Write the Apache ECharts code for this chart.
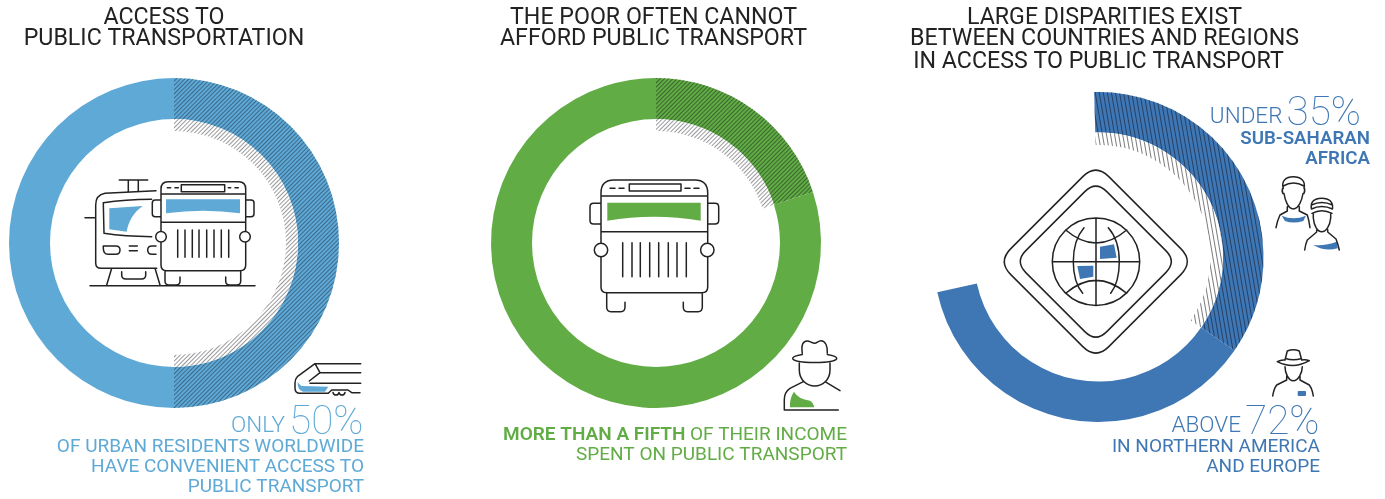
<!DOCTYPE html>
<html>
<head>
<meta charset="utf-8">
<title>Public transport access</title>
<style>html,body{margin:0;padding:0;background:#fff}#chart{width:1385px;height:499px}</style>
<script src="https://cdn.jsdelivr.net/npm/echarts@6/dist/echarts.min.js"></script>
</head>
<body>
<div id="chart"></div>
<script>
// Shares shown by the three rings, percent
const accessSlices = ['With convenient access', 'Without convenient access'];
const accessValues = [50, 50];
const incomeSlices = ['Spent on public transport', 'Other income'];
const incomeValues = [20, 80];
const regionSlices = ['Sub-Saharan Africa', 'Northern America and Europe', 'Not covered'];
const regionValues = [35, 37, 28];

// Headings, one entry per line
const headingA = ['ACCESS TO', 'PUBLIC TRANSPORTATION'];
const headingB = ['THE POOR OFTEN CANNOT', 'AFFORD PUBLIC TRANSPORT'];
const headingC = ['LARGE DISPARITIES EXIST', 'BETWEEN COUNTRIES AND REGIONS', 'IN ACCESS TO PUBLIC TRANSPORT'];

const SKY = '#5ea9d6', GREEN = '#61ac45', BLUE = '#3f77b4', INK = '#222222';
const FONT = 'Roboto, sans-serif';

const hatch = (color, rotation, gap) => ({
  symbol: 'rect', symbolSize: 1, color,
  dashArrayX: [1, 0], dashArrayY: [1, gap], rotation
});

function ring(center, radius, startAngle, names, values, styles) {
  return {
    type: 'pie', center, radius, startAngle, silent: true, animation: false,
    label: {show: false}, labelLine: {show: false}, emphasis: {disabled: true},
    data: values.map((value, i) => ({name: names[i], value, itemStyle: styles[i]}))
  };
}

const CLEAR = {color: 'rgba(255,255,255,0)'};
const series = [
  ring([174, 243], [124, 165], 90, accessSlices, accessValues, [
    {color: SKY, decal: hatch('rgba(38,66,92,0.62)', -Math.PI / 4, 2)}, {color: SKY}]),
  ring([174, 243], [112, 124], 90, accessSlices, accessValues, [
    {color: '#fff', decal: hatch('rgba(110,110,115,0.7)', -Math.PI / 4, 2)}, CLEAR]),
  ring([656, 243], [124, 165], 90, incomeSlices, incomeValues, [
    {color: GREEN, decal: hatch('rgba(32,60,30,0.62)', -Math.PI / 4, 2)}, {color: GREEN}]),
  ring([656, 243], [112, 124], 90, incomeSlices, incomeValues, [
    {color: '#fff', decal: hatch('rgba(110,110,115,0.7)', -Math.PI / 4, 2)}, CLEAR]),
  ring([1098.5, 257], [124.5, 165], 91.5, regionSlices, regionValues, [
    {color: BLUE, decal: hatch('rgba(25,45,75,0.72)', 1.4, 3)}, {color: BLUE}, CLEAR]),
  ring([1098.5, 257], [112, 124.5], 91.5, regionSlices, regionValues, [
    {color: '#fff', decal: hatch('rgba(100,100,105,0.85)', 1.4, 3)}, CLEAR, CLEAR])
];

// Line-art pictograms, as SVG path strings in page pixels
const outlines = {
  busA: 'M161 194V189Q161 181.7 168 181.7H238.7Q245.7 181.7 245.7 189V265Q245.7 270.7 240 270.7H226.7M180 270.7H166.7Q161 270.7 161 265V194H245.7M161 222.3H245.7' +
    'M165 270.7V281Q165 285 169 285H176Q180 285 180 281V277M240.7 270.7V281Q240.7 285 236.7 285H229.7Q225.7 285 225.7 281V277M180 270.7H226.7' +
    'M181.3 184.7H224.7V191.7H181.3ZM167.3 187.7H170.7M175 187.7H178.3M228.3 187.7H230.7M235 187.7H238.3' +
    'M161 200H155.3Q152.3 200 152.3 203V213.7Q152.3 216.7 155.3 216.7H161M245.7 200H251Q254 200 254 203V213.7Q254 216.7 251 216.7H245.7' +
    'M177.7 230V257.3M185 230V257.3M192.3 230V257.3M199 230V257.3M206.7 230V257.3M214 230V257.3M221.3 230V257.3M228.7 230V257.3',
  tram: 'M156 190.7L105 193.3Q95.7 195 95.7 205V263Q95.7 268.3 101 268.3H156.7M85 217.7H95.7' +
    'M151.7 199.3Q125 199.5 103.3 202.7L104 233.3Q125 236.5 151.7 236.7M119.3 180H147.7M128.3 180V191.7M138.3 180V191.7' +
    'M103.3 246H115.7Q120 246 120 250Q120 254.3 115.7 254.3H108Q103.3 254.3 103.3 248ZM129.3 246H137.3M129.3 250.7H137.3M156 246H152Q147.7 246 147.7 250Q147.7 254.3 152 254.3H156' +
    'M111.7 268.3L106.7 285M155 268.3L160 285M121.7 271.7V275Q121.7 279 126 279H141.5Q145.7 279 145.7 275V271.7M90 285.7H255',
  train: 'M360.7 363.7H315L297.3 376.7Q295 379 295 383V388Q295 393.3 300 393.3H328.3L331.7 390H348L351.7 392.7H360M315 363.7L320 372.7H360.7M320 372.7L309.3 381M310 383.3H360.7' +
    'M333 392.5Q333.5 395 336 395Q338.5 395 339 392.5M339 392.5Q339.5 395 342 395Q344.5 395 345 392.5',
  busB: 'M601 196V193Q601 180 614 180H694.7Q707.7 180 707.7 193V287Q707.7 292.7 702 292.7H685M623.7 292.7H606.7Q601 292.7 601 287V196H707.7M601 231.7H707.7M623.7 292.7H685' +
    'M606.7 292.7V307Q606.7 311.7 611 311.7H620.7Q625 311.7 625 307V302.3M702.3 292.7V307Q702.3 311.7 698 311.7H687.6Q683.3 311.7 683.3 307V302.3' +
    'M629.3 184H681V191H629.3ZM610 188.3H615M619 188.3H624M685 188.3H690M694 188.3H699' +
    'M601 203.3H593.5Q590 203.3 590 207V220.5Q590 224 593.5 224H601M707.7 203.3H715Q718.7 203.3 718.7 207V220.5Q718.7 224 715 224H707.7' +
    'M622.7 242.7V276.7M632 242.7V276.7M640.3 242.7V276.7M649.7 242.7V276.7M658.7 242.7V276.7M668.3 242.7V276.7M677 242.7V276.7M686.3 242.7V276.7',
  hatMan: 'M802.3 353.3C801 345 803 341 807 341C810 341 812 343.3 814.7 343.3C817 343.3 818 340.7 821 340.7C825 340.7 828 346 827.3 353.3' +
    'M802.3 354.5C796 355.5 792.7 356.7 792.7 358.3C792.7 361 802 362.6 814.7 362.6C827.4 362.6 836.7 361 836.7 358.3C836.7 356.7 833 355.5 827.3 354.5' +
    'M799.3 363V370C799.3 380 807 386 814.7 386C822.4 386 830 380 830 370V363M803.3 381.7L790 388.3Q784.3 392 784.3 400V410H838.3M825 381.7L840 390.7',
  globe: 'M1082.8 176.6Q1095.8 163.6 1108.8 176.6L1180.8 248.6Q1193.8 261.6 1180.8 274.6L1108.8 346.6Q1095.8 359.6 1082.8 346.6L1010.8 274.6Q997.8 261.6 1010.8 248.6Z' +
    'M1084.8 191.6Q1095.8 180.6 1106.8 191.6L1165.8 250.6Q1176.8 261.6 1165.8 272.6L1106.8 331.6Q1095.8 342.6 1084.8 331.6L1025.8 272.6Q1014.8 261.6 1025.8 250.6Z' +
    'M1052.3 261.7A43.7 43.7 0 1 0 1139.7 261.7A43.7 43.7 0 1 0 1052.3 261.7ZM1052.3 261.7H1139.7M1096 218V305.4' +
    'M1065.7 230Q1096 256 1126.7 230M1065.7 293.3Q1096 267.5 1126.7 293.3' +
    'M1084 227.7Q1073.3 240 1073.3 261.7Q1073.3 282 1082.7 293.3M1108.3 227.7Q1119.3 240 1119.3 261.7Q1119.3 282 1110.7 293.3',
  couple: 'M1283.3 188.3C1281 181 1286 176.7 1293.3 176.7C1300.6 176.7 1306 181 1304 188.3M1283.3 186Q1293.3 180 1304 186' +
    'M1283.3 187.5Q1281.3 190 1282.8 193.5L1284 193.5C1285 200 1288 209 1293.3 209C1298.6 209 1302 200 1303 193.5L1304 193.5Q1305.5 190 1304 187.5' +
    'M1287.3 206.7V211L1280 215Q1277.5 220 1276 227.7M1299.3 206.7V211L1307.3 215Q1309 220 1310 227.7' +
    'M1311.5 209C1310 202 1314 198.3 1321.7 198.3C1329.4 198.3 1333.5 202 1332.5 209M1311.5 205Q1321.7 200 1332.5 205M1311.5 209Q1321.7 204 1332.5 209M1312 213.3Q1321.7 208 1332 213.3' +
    'M1313.3 213V218C1314 226 1317.5 231.7 1321.7 231.7C1326 231.7 1330 226 1330.7 218V213' +
    'M1316.7 229.5V232L1307.3 240Q1305.5 244 1304.7 250M1327.7 229.5V232L1336 239Q1338 244 1339.3 250',
  cowboy: 'M1277.3 361.7Q1293.3 370 1309.3 360.7M1277.3 361.7Q1281 359.5 1285 360M1309.3 360.7Q1305.5 359 1301.7 360M1285 360L1287.3 351Q1293.3 348.5 1299.3 351L1301.7 360M1285.5 358.5Q1293.3 361 1301.5 358.5' +
    'M1285 366.7C1285 373 1288.5 380.7 1293.3 380.7C1298.1 380.7 1302.3 373 1302.3 366.7' +
    'M1286.7 376V380L1276.7 385Q1273.7 389 1272.7 396M1300 376V380L1309.3 385Q1312.3 389 1313.3 396'
};
const fills = {
  busA: ['M166 199.3H240V213.3Q203 208.2 166 213.3Z', SKY],
  tram: ['M109.3 208.3L142.7 206C134 212 128.5 221 126.7 231.7L109.3 229.3Z', SKY],
  train: ['M297.7 381.7Q299 385 301.7 386L328.3 386.7L325 391.7H303Q297 390 297.7 381.7Z', SKY],
  busB: ['M607.3 202.7H700.7V220.7Q654 212.7 607.3 220.7Z', GREEN],
  hatMan: ['M794 391.7Q798 399 810 400.7Q813 402 814.3 407.3H790Q789.5 398 794 391.7Z', GREEN],
  globeN: ['M1100 246.7L1114 244.3L1116.7 257.7L1100 259Z', BLUE],
  globeS: ['M1077.3 266L1093.3 265.7V276.7L1080 279Z', BLUE],
  coupleA: ['M1281.7 215.7Q1293.3 221 1306 215.7L1303.3 221Q1293.3 224 1285 221Z', BLUE],
  coupleB: ['M1313.3 245Q1326 246 1336.7 241.7L1337.7 248.3Q1325 252 1313.3 245Z', BLUE],
  cowboy: ['M1298.7 391H1305Q1306 391 1306 392V395Q1306 396 1305 396H1298.7Q1297.7 396 1297.7 395V392Q1297.7 391 1298.7 391Z', BLUE]
};

const graphicItems = [];
Object.keys(fills).forEach(key => {
  const name = 'fill_' + key;
  echarts.graphic.registerShape(name, echarts.graphic.extendPath(fills[key][0]));
  graphicItems.push({type: name, silent: true, style: {fill: fills[key][1], stroke: null}});
});
Object.keys(outlines).forEach(key => {
  const name = 'line_' + key;
  echarts.graphic.registerShape(name, echarts.graphic.extendPath(outlines[key]));
  graphicItems.push({type: name, silent: true,
    style: {fill: 'none', stroke: INK, lineWidth: 1.5, lineCap: 'round', lineJoin: 'round'}});
});
// Headlamps sit on top of the body outlines
[[161, 236.7, 5.3], [245, 236.7, 5.3], [601, 250, 6.7], [707.3, 250, 6.7]].forEach(([cx, cy, r]) => {
  graphicItems.push({type: 'circle', silent: true, shape: {cx, cy, r},
    style: {fill: '#fff', stroke: INK, lineWidth: 1.5}});
});
// Thin seams where the plain and hatched parts of a ring meet
[[655.6, 78, 119, '#fff', 1.2], [174, 78, 119, 'rgba(255,255,255,0.3)', 1], [174, 367, 408, 'rgba(255,255,255,0.3)', 1]]
  .forEach(([x, y1, y2, stroke, lineWidth]) => {
    graphicItems.push({type: 'line', silent: true, shape: {x1: x, y1, x2: x, y2}, style: {stroke, lineWidth}});
  });

// Text runs are placed by baseline; the elements themselves anchor at the top of the line box
function textLine(text, x, baseline, align, fill, weight, size, lift) {
  const font = weight + ' ' + size + 'px ' + FONT;
  graphicItems.push({type: 'text', silent: true, x, y: baseline - size * (lift || 0.78),
    style: {text, fill, font, align}});
}
function textWidth(text, weight, size) {
  const ctx = document.createElement('canvas').getContext('2d');
  ctx.font = weight + ' ' + size + 'px ' + FONT;
  return ctx.measureText(text).width;
}
// Small word plus large thin figure, right aligned
function figureLine(word, figure, right, baseline, fill) {
  textLine(figure, right, baseline, 'right', fill, 100, 40.5, 0.735);
  textLine(word, right - textWidth(figure, 100, 40.5) - 4, baseline - 0.5, 'right', fill, 300, 22.5);
}

textLine(headingA[0], 164, 25, 'center', INK, 400, 23.2);
textLine(headingA[1], 164, 46, 'center', INK, 400, 23.2);
textLine(headingB[0], 653.5, 25, 'center', INK, 400, 23.2);
textLine(headingB[1], 653.5, 46, 'center', INK, 400, 23.2);
textLine(headingC[0], 1104.5, 25, 'center', INK, 400, 23.2);
textLine(headingC[1], 1104.5, 46, 'center', INK, 400, 23.2);
textLine(headingC[2], 1098.5, 69, 'center', INK, 400, 23.2);

figureLine('ONLY', '50%', 363.5, 433, SKY);
textLine('OF URBAN RESIDENTS WORLDWIDE', 364, 453, 'right', SKY, 400, 19);
textLine('HAVE CONVENIENT ACCESS TO', 364, 473, 'right', SKY, 400, 19);
textLine('PUBLIC TRANSPORT', 364, 493, 'right', SKY, 400, 19);

textLine(' OF THEIR INCOME', 847, 441, 'right', GREEN, 400, 19);
textLine('MORE THAN A FIFTH', 503, 441, 'left', GREEN, 600, 19);
textLine('SPENT ON PUBLIC TRANSPORT', 847, 461, 'right', GREEN, 400, 19);

figureLine('UNDER', '35%', 1361, 124, BLUE);
textLine('SUB-SAHARAN', 1370, 144, 'right', BLUE, 600, 18.7);
textLine('AFRICA', 1370, 164, 'right', BLUE, 600, 18.7);

figureLine('ABOVE', '72%', 1319.5, 433, BLUE);
textLine('IN NORTHERN AMERICA', 1320, 453, 'right', BLUE, 400, 19);
textLine('AND EUROPE', 1320, 473, 'right', BLUE, 400, 19);

const chart = echarts.init(document.getElementById('chart'), null, {renderer: 'canvas', width: 1385, height: 499});
chart.setOption({animation: false, backgroundColor: '#fff', series, graphic: {elements: graphicItems}});
</script>
</body>
</html>
